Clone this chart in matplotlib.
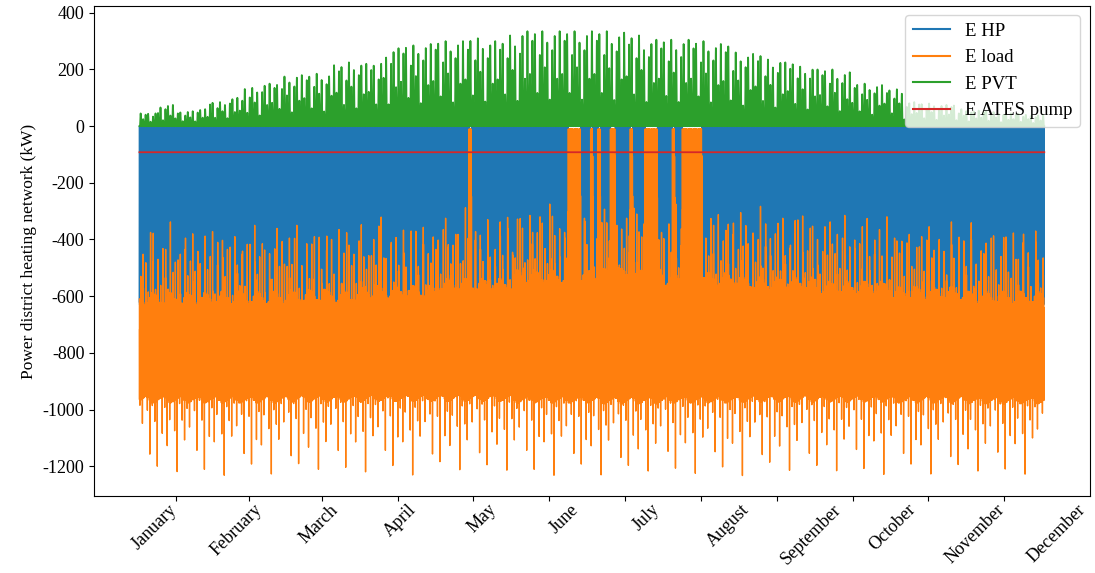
import numpy as np
import matplotlib.pyplot as plt

plt.rcParams['font.family'] = ['Liberation Serif', 'DejaVu Serif']
plt.rcParams['axes.unicode_minus'] = False

months = ['January', 'February', 'March', 'April', 'May', 'June', 'July',
          'August', 'September', 'October', 'November', 'December']
days_in_month = [31, 28, 31, 30, 31, 30, 31, 31, 30, 31, 30, 31]

# PVT: peak of the best day in each week (kW), cloud factors cycled day by day,
# and the hourly shape of a day
pvt_week_peak = [45, 75, 50, 60, 85, 100, 135, 150, 175, 180, 185, 215, 225,
                 220, 275, 285, 290, 300, 300, 310, 300, 320, 335, 335, 335,
                 335, 335, 330, 320, 305, 305, 305, 300, 290, 260, 255, 235,
                 225, 210, 200, 190, 150, 145, 130, 85, 80, 75, 60, 55, 50,
                 45, 40]
pvt_day_factor = [1.0, 0.55, 0.9, 0.97, 0.35, 0.75, 1.0, 0.62, 0.88, 0.28,
                  0.8, 0.95, 0.5]
pvt_hour_shape = [0, 0, 0, 0, 0, 0, 0.03, 0.15, 0.35, 0.58, 0.78, 0.93, 1.0,
                  0.96, 0.84, 0.66, 0.44, 0.22, 0.06, 0, 0, 0, 0, 0]

# heat pump power per hour of a day (kW, switching on/off) and days when it is off
hp_hour = [-620, 0, -630, -40, -625, 0, -615, -90, -620, 0, -610, -30,
           -600, 0, -620, -60, -625, 0, -630, -20, -620, 0, -615, -50]
hp_off_days = [133, *range(173, 178), 182, 185, 190, 191, 198,
               *range(204, 209), 215, *range(219, 227)]

# load: monthly top / bottom of the daily band (kW), weekly wobble,
# spikes cycled day by day, hourly position inside the band (0 top, 1 bottom)
load_top = [-610, -605, -600, -585, -560, -530, -525, -540, -555, -570,
            -590, -605]
load_bottom = [-965, -965, -962, -960, -960, -965, -968, -965, -962, -962,
               -965, -968]
load_week_wave = [0, -12, -22, -15, 5, 22, 14]
load_top_spike = [0, 170, 60, 0, 230, 110, 20, 140, 0, 200, 90, 0, 250, 40,
                  130, 0, 180]
load_top_spike2 = [80, 0, 150, 40, 0, 210, 0, 120, 60, 0, 190, 30, 0]
load_bottom_spike = [-20, -90, 0, -45, -190, -10, -70, -235, 0, -130, -35,
                     -160, -60, 0, -110, -260, -25, -80, -140]
load_hour_shape = [0.0, 1.0, 0.3, 0.9, 0.05, 0.95, 0.2, 1.0, 0.1, 0.85, 0.0,
                   0.9, 0.4, 1.0, 0.15, 0.95, 0.0, 0.8, 0.3, 1.0, 0.1, 0.9,
                   0.25, 0.95]
load_off_top = -10

ates_pump = -92

# ---- build hourly series ----
n_days = sum(days_in_month)
day_month = np.repeat(np.arange(12), days_in_month)

pvt_peak = np.append(np.repeat(pvt_week_peak, 7), pvt_week_peak[-1])
pvt_peak = pvt_peak * np.resize(pvt_day_factor, n_days)
e_pvt = np.outer(pvt_peak, pvt_hour_shape)

e_hp = np.tile(np.array(hp_hour, float), (n_days, 1))
e_hp[hp_off_days] = 0

wave = np.resize(load_week_wave, n_days)
top = np.array(load_top)[day_month] + wave
top[hp_off_days] = load_off_top
bottom = np.array(load_bottom)[day_month] - 0.5 * wave
shape = np.array(load_hour_shape)
e_load = top[:, None] + (bottom - top)[:, None] * shape[None, :]
up1 = np.resize(load_top_spike, n_days)
up2 = np.resize(load_top_spike2, n_days)
e_load[:, 12] = np.where(up1 > 0, top + up1, e_load[:, 12])
e_load[:, 14] = np.where(up2 > 0, top + up2, e_load[:, 14])
e_load[hp_off_days, 12] = load_off_top
e_load[hp_off_days, 14] = load_off_top
e_load[:, 5] = bottom + np.resize(load_bottom_spike, n_days)

e_ates = np.full(n_days * 24, ates_pump)
hours = np.arange(n_days * 24)

# ---- plot ----
fig = plt.figure(figsize=(10.95, 5.73), dpi=100)
ax = fig.add_subplot(111)
fig.subplots_adjust(left=0.086, right=0.995, top=0.99, bottom=0.134)

ax.plot(hours, e_hp.ravel(), lw=1.0, label='E HP')
ax.plot(hours, e_load.ravel(), lw=1.0, label='E load')
ax.plot(hours, e_pvt.ravel(), lw=1.3, label='E PVT')
ax.plot(hours, e_ates, lw=1.3, label='E ATES pump')

ax.set_ylim(-1306, 425)
ax.set_yticks(range(-1200, 401, 200))
ax.tick_params(labelsize=13)
ax.set_ylabel('Power district heating network (kW)', fontsize=12.5)

month_start = np.concatenate([[0], np.cumsum(days_in_month)[:-1]]) * 24
ax.set_xticks(month_start + np.array(days_in_month) * 12 - 20)
ax.set_xticklabels([])
label_x = np.linspace(145, 8880, 12)
for x, m in zip(label_x, months):
    ax.text(x, -0.01, m, rotation=45, ha='center', va='top', fontsize=13,
            transform=ax.get_xaxis_transform())

leg = ax.legend(loc='upper right', fontsize=13.5)
for h in leg.get_lines():
    h.set_linewidth(1.5)
fig.savefig('out.png', dpi=100)
